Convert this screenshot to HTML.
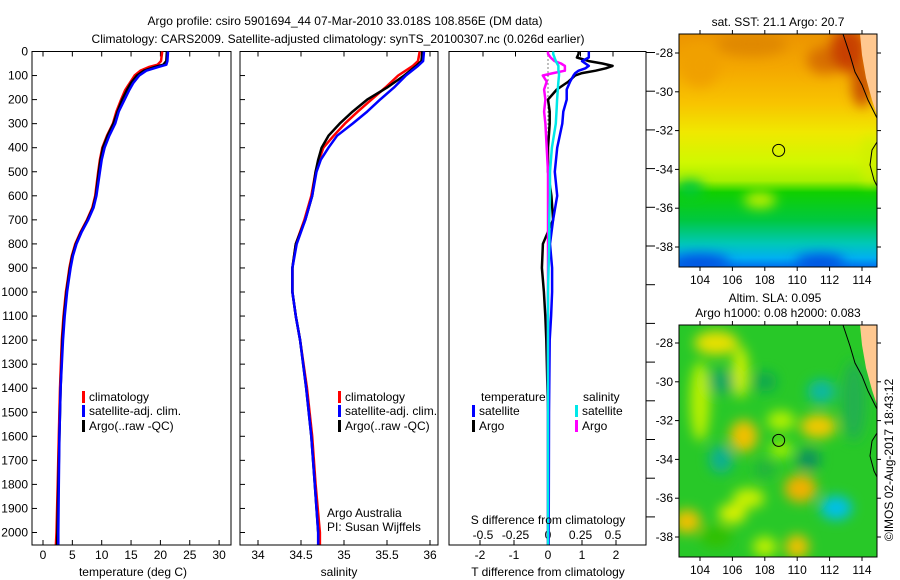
<!DOCTYPE html>
<html><head><meta charset="utf-8"><style>
body{margin:0;background:#fff}
svg{display:block;font-family:"Liberation Sans",sans-serif;font-size:12px}
</style></head><body>
<svg id="c" width="900" height="580" viewBox="0 0 900 580" xmlns="http://www.w3.org/2000/svg">
<defs>
<filter id="bl" x="-50%" y="-50%" width="200%" height="200%"><feGaussianBlur stdDeviation="6"/></filter>
<linearGradient id="sstg" x1="0" y1="0" x2="0" y2="1">
<stop offset="0" stop-color="#ec9400"/><stop offset="0.15" stop-color="#f4a800"/><stop offset="0.3" stop-color="#f8c400"/>
<stop offset="0.42" stop-color="#f0e800"/><stop offset="0.55" stop-color="#d0f800"/><stop offset="0.63" stop-color="#a8f000"/><stop offset="0.68" stop-color="#10d000"/>
<stop offset="0.8" stop-color="#00c840"/><stop offset="0.9" stop-color="#00c8b8"/><stop offset="0.96" stop-color="#00b0f0"/><stop offset="1" stop-color="#0070f0"/>
</linearGradient>
<clipPath id="m1c"><rect x="679" y="34" width="198" height="233"/></clipPath>
<clipPath id="m2c"><rect x="679" y="325" width="198" height="232"/></clipPath>
</defs>
</svg>
<script>
// ---------- data ----------
const tDepth=[0,40,55,65,80,100,130,160,200,250,300,350,400,450,500,600,650,700,750,800,850,900,950,1000,1100,1200,1400,1600,1800,2000,2050];
const tClim=[20.3,20.1,19.5,18.0,16.6,15.6,14.8,14.0,13.3,12.5,11.9,10.9,10.1,9.7,9.4,8.9,8.4,7.5,6.4,5.5,4.9,4.5,4.2,3.9,3.5,3.2,2.9,2.7,2.5,2.3,2.2];
const tSat=[21.3,21.2,21.0,19.6,17.6,16.4,15.4,14.7,13.9,12.9,12.3,11.3,10.5,10.0,9.7,9.1,8.6,7.7,6.6,5.7,5.1,4.7,4.4,4.1,3.7,3.4,3.0,2.8,2.7,2.6,2.6];
const tArgo=[21.1,21.0,20.5,19.0,17.2,16.0,15.0,14.3,13.5,12.7,12.0,11.0,10.2,9.8,9.5,9.0,8.5,7.6,6.5,5.6,5.0,4.6,4.3,4.0,3.6,3.3,3.0,2.8,2.6,2.45,2.4];
const sDepth=[0,40,60,100,150,200,250,300,350,400,450,500,600,700,800,900,1000,1100,1200,1400,1600,1800,2000,2050];
const sClim=[35.88,35.86,35.8,35.63,35.48,35.32,35.16,35.01,34.88,34.76,34.71,34.67,34.62,34.54,34.44,34.40,34.40,34.44,34.49,34.57,34.63,34.67,34.72,34.72];
const sSat=[35.93,35.92,35.86,35.72,35.58,35.42,35.27,35.10,34.92,34.82,34.73,34.68,34.63,34.55,34.45,34.40,34.40,34.44,34.49,34.56,34.62,34.66,34.70,34.70];
const sArgo=[35.91,35.90,35.84,35.70,35.50,35.27,35.10,34.95,34.82,34.74,34.70,34.67,34.63,34.55,34.44,34.40,34.40,34.44,34.49,34.56,34.62,34.66,34.70,34.70];
const dDepth=[0,10,25,40,50,60,70,80,90,100,125,158,200,250,300,400,500,600,700,800,900,1000,1100,1200,1500,2000,2050];
const dTArgo=[0.9,0.9,0.85,1.2,1.6,1.9,1.7,1.4,1.0,0.8,0.6,0.26,0.0,0.05,0.05,0.0,0.0,0.1,0.15,-0.15,-0.18,-0.12,-0.08,-0.05,0,0,0];
const dTSat=[1.2,1.2,1.2,1.0,1.1,1.2,1.1,0.9,0.8,0.75,0.65,0.55,0.55,0.45,0.42,0.27,0.2,0.27,0.15,0.06,0.12,0.12,0.09,0.05,0.03,0.02,0.02];
const dSArgo=[0.0,0.0,0.02,0.05,0.1,0.13,0.13,0.13,0.04,-0.04,-0.01,-0.03,-0.02,-0.03,-0.02,-0.01,0.0,0.0,0.0,0.0,0.0,0.0,0.0,0.0,0.0,0.0,0.0];
const dSSat=[0.04,0.04,0.05,0.06,0.07,0.08,0.08,0.08,0.085,0.085,0.08,0.075,0.07,0.065,0.06,0.03,0.015,0.015,0.01,0.01,0.005,0.0,0.0,0.0,0.0,0.0,0.0];
const depthTicks=[0,100,200,300,400,500,600,700,800,900,1000,1100,1200,1300,1400,1500,1600,1700,1800,1900,2000];
const tTicks=[0,5,10,15,20,25,30];
const sTicks=[34,34.5,35,35.5,36];
const dTTicks=[-2,-1,0,1,2];
const dSTicks=[-0.5,-0.25,0,0.25,0.5];
const dSLabels=["-0.5","-0.25","0","0.25","0.5"];
const lonTicks=[104,106,108,110,112,114];
const latTicks=[-28,-30,-32,-34,-36,-38];
const argoLon=108.856, argoLat=-33.018;

// ---------- helpers ----------
const NS="http://www.w3.org/2000/svg";
const svg=document.getElementById('c');
function mk(tag,attrs,parent){const e=document.createElementNS(NS,tag);for(const k in attrs)e.setAttribute(k,attrs[k]);(parent||svg).appendChild(e);return e;}
function txt(x,y,s,anchor,parent){const e=mk('text',{x:x,y:y,'text-anchor':anchor||'start',fill:'#000'},parent);e.textContent=s;return e;}
const Y0=51.5, TOP=51.5, BOT=545;
const yD=d=>Y0+d*0.2405;
const xT=v=>43+v*5.87;
const xS=v=>258+(v-34)*86;
const xDT=v=>548+v*34;
const xDS=v=>548+v*130;
const P=[{l:32,r:231},{l:240,r:438},{l:449,r:646}];

P.forEach((p,i)=>{const f=mk('rect',{x:p.l,y:TOP,width:p.r-p.l,height:BOT-TOP,fill:'none',stroke:'#000','stroke-width':1});
});

depthTicks.forEach(d=>{
  const y=yD(d);
  const t=txt(28,y+4,String(d),'end');
  mk('line',{x1:32,x2:37,y1:y,y2:y,stroke:'#000'});
  mk('line',{x1:240,x2:245,y1:y,y2:y,stroke:'#000'});
});
for(let y=TOP+1;y<BOT;y+=38.7){mk('line',{x1:646,x2:655,y1:y,y2:y,stroke:'#000'});}

function xticks(vals,fx,labels,ytop){vals.forEach((v,i)=>{const x=fx(v);
  mk('line',{x1:x,x2:x,y1:TOP,y2:TOP+5,stroke:'#000'});
  mk('line',{x1:x,x2:x,y1:BOT,y2:BOT-5,stroke:'#000'});
  const t=txt(x,ytop,labels?labels[i]:String(v),'middle');});}
xticks(tTicks,xT,null,559);
xticks(sTicks,xS,null,559);
dTTicks.forEach(v=>{const x=xDT(v);mk('line',{x1:x,x2:x,y1:BOT,y2:BOT-5,stroke:'#000'});
  const t=txt(x,559,String(v),'middle');});
dSTicks.forEach((v,i)=>{const x=xDS(v);mk('line',{x1:x,x2:x,y1:TOP,y2:TOP+5,stroke:'#000'});
  const t=txt(x,539,dSLabels[i],'middle');});

mk('line',{x1:548,x2:548,y1:TOP,y2:BOT,stroke:'#000','stroke-dasharray':'1,3','stroke-width':1});

function line(depths,vals,fx,color,w,name){
  const pts=depths.map((d,i)=>fx(vals[i]).toFixed(1)+','+yD(d).toFixed(1)).join(' ');
  const e=mk('polyline',{points:pts,fill:'none',stroke:color,'stroke-width':w||2.5,'stroke-linejoin':'round'});
  }
line(tDepth,tClim,xT,'#ff0000',2.5,'temp-climatology-line');
line(tDepth,tArgo,xT,'#000000',2.5,'temp-argo-line');
line(tDepth,tSat,xT,'#0000ff',2.5,'temp-satellite-line');
line(sDepth,sClim,xS,'#ff0000',2.5,'sal-climatology-line');
line(sDepth,sArgo,xS,'#000000',2.5,'sal-argo-line');
line(sDepth,sSat,xS,'#0000ff',2.5,'sal-satellite-line');
line(dDepth,dTArgo,xDT,'#000000',2.5,'tdiff-argo-line');
line(dDepth,dTSat,xDT,'#0000ff',2.5,'tdiff-satellite-line');
line(dDepth,dSArgo,xDS,'#ff00ff',2.5,'sdiff-argo-line');
line(dDepth,dSSat,xDS,'#00e8e8',2.5,'sdiff-satellite-line');

function leg(x,y,color,label,name){mk('rect',{x:x,y:y-6,width:3,height:12,fill:color});
  const t=txt(x+7,y+4,label);}
[[82],[338]].forEach(([x],i)=>{leg(x,397,'#ff0000','climatology','legend-climatology');leg(x,411,'#0000ff','satellite-adj. clim.','legend-satellite');leg(x,426,'#000','Argo(..raw -QC)','legend-argo');});
txt(481,401,'temperature');
txt(583,401,'salinity');
leg(472,411,'#0000ff','satellite','legend-t-satellite');leg(472,426,'#000','Argo','legend-t-argo');
leg(575,411,'#00e8e8','satellite','legend-s-satellite');leg(575,426,'#ff00ff','Argo','legend-s-argo');
txt(327,517,'Argo Australia');
txt(327,531,'PI: Susan Wijffels');
txt(548,524,'S difference from climatology','middle');
txt(133,576,'temperature (deg C)','middle');
txt(339,576,'salinity','middle');
txt(548,576,'T difference from climatology','middle');
txt(345,25,'Argo profile: csiro 5901694_44 07-Mar-2010 33.018S 108.856E (DM data)','middle');
txt(338,43,'Climatology: CARS2009. Satellite-adjusted climatology: synTS_20100307.nc (0.026d earlier)','middle');

// ---------- maps ----------
const xL=v=>700+(v-104)*16.2;
function mapAxes(top,bot,lat28){
  const yL=v=>lat28+(-28-v)*19.4;
  mk('rect',{x:679,y:top,width:198,height:bot-top,fill:'none',stroke:'#000'});
  lonTicks.forEach(v=>{const x=xL(v);mk('line',{x1:x,x2:x,y1:top,y2:top-4,stroke:'#000'});mk('line',{x1:x,x2:x,y1:bot,y2:bot+4,stroke:'#000'});
    const t=txt(x,bot+17,String(v),'middle');});
  latTicks.forEach(v=>{const y=yL(v);mk('line',{x1:679,x2:675,y1:y,y2:y,stroke:'#000'});mk('line',{x1:877,x2:881,y1:y,y2:y,stroke:'#000'});
    const t=txt(673,y+4,String(v),'end');});
  return yL;}
// map1
const g1=mk('g',{'clip-path':'url(#m1c)'});
mk('rect',{x:679,y:34,width:198,height:233,fill:'url(#sstg)'},g1);
const b1=mk('g',{filter:'url(#bl)'},g1);
[[752,44,35,12,'#e08800'],[825,60,18,14,'#d87000'],[848,50,18,22,'#c84000'],[862,85,10,22,'#c85000'],[700,65,20,22,'#f0a000'],[690,188,14,8,'#00c840'],[760,200,16,8,'#c0f000'],[700,262,30,8,'#0050e0'],[820,262,25,8,'#0050e0'],[870,160,8,25,'#d0f000']].forEach(b=>mk('ellipse',{cx:b[0],cy:b[1],rx:b[2],ry:b[3],fill:b[4]},b1));
mk('polygon',{points:'860,34 877,34 877,115 872,100 866,78 862,55',fill:'#ffc890'},g1);
mk('polyline',{points:'843,34 850,55 855,72 862,85 868,100 877,118',fill:'none',stroke:'#000'},g1);
mk('polyline',{points:'877,142 872,150 870,165 874,180 877,186',fill:'none',stroke:'#000'},g1);
const yL1=mapAxes(34,267,53);
mk('circle',{cx:xL(argoLon),cy:yL1(argoLat),r:6,fill:'none',stroke:'#000'});
txt(778,26,'sat. SST: 21.1  Argo: 20.7','middle');
// map2
const g2=mk('g',{'clip-path':'url(#m2c)'});
mk('rect',{x:679,y:325,width:198,height:232,fill:'#28c828'},g2);
const yL2=v=>343+(-28-v)*19.4;
const b2=mk('g',{filter:'url(#bl)'},g2);
[[105,-28,22,12,'#e8e000'],[104,-31,10,40,'#b8f000'],[106.5,-29.5,8,26,'#d0f000'],[105.3,-30,13,12,'#10a860'],[108,-30,12,10,'#10a850'],[111.5,-30.5,14,12,'#10b8a0'],[106.7,-32.8,14,16,'#f0c000'],[111.3,-32.3,18,12,'#f0c800'],[109,-32,14,10,'#b0f000'],[109,-33.5,12,8,'#a0f000'],[105.3,-34,12,14,'#10b090'],[110.7,-34,12,10,'#109060'],[108,-34.5,10,8,'#20b040'],[110.2,-35.5,16,14,'#f0b000'],[107,-36,16,10,'#c8f000'],[106,-36.8,14,10,'#d8f000'],[112.4,-36.5,16,12,'#00c0e8'],[103.2,-37.2,14,12,'#f0c000'],[110,-38.5,12,12,'#f0c000'],[108,-38.5,12,10,'#c0f000'],[105,-38,16,10,'#30c000'],[113.5,-31,12,40,'#20b050']].forEach(b=>mk('ellipse',{cx:xL(b[0]),cy:yL2(b[1]),rx:b[2],ry:b[3],fill:b[4]},b2));
mk('polygon',{points:'860,325 877,325 877,405 872,390 866,368 862,345',fill:'#ffc890'},g2);
mk('polyline',{points:'843,325 850,346 855,363 862,376 868,391 877,409',fill:'none',stroke:'#000'},g2);
mk('polyline',{points:'877,433 872,441 870,456 874,471 877,477',fill:'none',stroke:'#000'},g2);
mapAxes(325,557,343);
mk('circle',{cx:xL(argoLon),cy:yL2(argoLat),r:6,fill:'none',stroke:'#000'});
txt(775,302,'Altim. SLA: 0.095','middle');
txt(778,317,'Argo h1000: 0.08  h2000: 0.083','middle');
const cr=txt(0,0,'©IMOS 02-Aug-2017 18:43:12','middle');cr.setAttribute('transform','translate(893,460) rotate(-90)');

</script>
</body></html>
